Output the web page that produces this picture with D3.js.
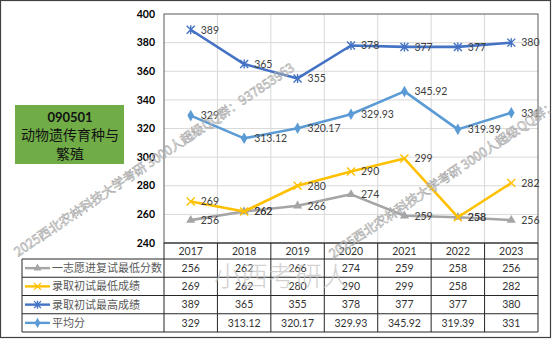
<!DOCTYPE html>
<html><head><meta charset="utf-8">
<script src="https://cdn.jsdelivr.net/npm/d3@7"></script>
<style>html,body{margin:0;padding:0;background:#fff;}svg{display:block;}</style>
</head><body><svg id="c" width="554" height="340"></svg>
<script>
const years = ["2017","2018","2019","2020","2021","2022","2023"];
const seriesNames = ["一志愿进复试最低分数","录取初试最低成绩","录取初试最高成绩","平均分"];
const minRetest = [256,262,266,274,259,258,256];
const minAdmit = [269,262,280,290,299,258,282];
const maxAdmit = [389,365,355,378,377,377,380];
const avgScore = [329,313.12,320.17,329.93,345.92,319.39,331];
const yTicks = [240,260,280,300,320,340,360,380,400];
const titleLines = ["090501","动物遗传育种与","繁殖"];
const watermark = "2025西北农林科技大学考研 3000人超级QQ群：937853963";
const watermark2 = "小西考研人";

const series = [
  {name: seriesNames[0], values: minRetest, color: "#a5a5a5", marker: "tri"},
  {name: seriesNames[1], values: minAdmit, color: "#ffc000", marker: "x"},
  {name: seriesNames[2], values: maxAdmit, color: "#4472c4", marker: "star"},
  {name: seriesNames[3], values: avgScore, color: "#5b9bd5", marker: "dia"}
];

const svg = d3.select("#c");
const L = 164, R = 538, T = 14, B = 243;
const x = d3.scaleBand().domain(years).range([L, R]);
const y = d3.scaleLinear().domain([240, 400]).range([B, T]);
const font = "Lato, 'Noto Sans', sans-serif";
const cjk = "'Noto Sans CJK SC', sans-serif";

// outer border
svg.append("rect").attr("x", 0.5).attr("y", 0.5).attr("width", 550).attr("height", 337)
  .attr("fill", "#fff").attr("stroke", "#404040").attr("stroke-width", 1.2);

// gridlines
svg.append("g").selectAll("line").data(yTicks.filter(t => t > 240 && t < 400)).join("line")
  .attr("x1", L).attr("x2", R).attr("y1", d => y(d)).attr("y2", d => y(d))
  .attr("stroke", "#d9d9d9").attr("stroke-width", 1);
svg.append("g").selectAll("line").data(years.slice(1)).join("line")
  .attr("x1", d => x(d)).attr("x2", d => x(d)).attr("y1", T).attr("y2", B)
  .attr("stroke", "#d9d9d9").attr("stroke-width", 1);
// plot border
svg.append("rect").attr("x", L).attr("y", T).attr("width", R - L).attr("height", B - T)
  .attr("fill", "none").attr("stroke", "#595959").attr("stroke-width", 1);

// y axis labels
svg.append("g").selectAll("text").data(yTicks).join("text")
  .attr("x", 155).attr("y", d => y(d)).attr("dy", "0.35em").attr("text-anchor", "end")
  .attr("font-family", font).attr("font-weight", "bold").attr("font-size", 10.5)
  .attr("fill", "#000").text(d => d);

// title box
svg.append("rect").attr("x", 15).attr("y", 105).attr("width", 109).attr("height", 59).attr("fill", "#70ad47");
svg.append("g").selectAll("text").data(titleLines).join("text")
  .attr("x", 70).attr("y", (d, i) => 117 + i * 18.5).attr("dy", "0.35em").attr("text-anchor", "middle")
  .attr("font-family", (d, i) => i === 0 ? font : cjk)
  .attr("font-weight", (d, i) => i === 0 ? "bold" : "normal")
  .attr("font-size", (d, i) => i === 0 ? 13 : 14)
  .attr("fill", "#111").text(d => d);

function drawMarker(g, type, color, size) {
  const s = size;
  if (type === "tri") {
    g.append("path").attr("d", d3.symbol(d3.symbolTriangle, s * s * 2.2)()).attr("fill", color);
  } else if (type === "dia") {
    g.append("path").attr("d", d3.symbol(d3.symbolDiamond, s * s * 2.4)()).attr("fill", color);
  } else if (type === "x") {
    g.append("path").attr("d", `M${-s},${-s}L${s},${s}M${-s},${s}L${s},${-s}`)
      .attr("stroke", color).attr("stroke-width", 1.4).attr("fill", "none");
  } else {
    g.append("path").attr("d", `M${-s},${-s}L${s},${s}M${-s},${s}L${s},${-s}M0,${-s - 0.5}L0,${s + 0.5}`)
      .attr("stroke", color).attr("stroke-width", 1.4).attr("fill", "none");
  }
}

const line = d3.line().x((d, i) => x(years[i]) + x.bandwidth() / 2).y(d => y(d));
series.forEach(s => {
  const g = svg.append("g");
  g.append("path").datum(s.values).attr("d", line).attr("fill", "none")
    .attr("stroke", s.color).attr("stroke-width", 2.6).attr("stroke-linejoin", "round");
  s.values.forEach((v, i) => {
    const m = g.append("g").attr("transform", `translate(${x(years[i]) + x.bandwidth() / 2},${y(v)})`);
    drawMarker(m, s.marker, s.color, 4);
  });
});
// data labels
series.forEach(s => {
  svg.append("g").selectAll("text").data(s.values).join("text")
    .attr("x", (d, i) => x(years[i]) + x.bandwidth() / 2 + 10)
    .attr("y", d => y(d)).attr("dy", "0.36em")
    .attr("font-family", font).attr("font-size", 10.5).attr("fill", "#404040").text(d => d);
});

// data table
const hdrTop = B, hdrBot = 259, rowH = 18.25;
const tbl = svg.append("g").attr("stroke", "#262626").attr("stroke-width", 1);
const tableBottom = hdrBot + rowH * series.length;
tbl.append("line").attr("x1", L).attr("x2", R).attr("y1", hdrTop).attr("y2", hdrTop);
d3.range(series.length + 1).forEach(k => {
  const yy = hdrBot + k * rowH;
  tbl.append("line").attr("x1", 22).attr("x2", R).attr("y1", yy).attr("y2", yy);
});
years.forEach(yr => {
  tbl.append("line").attr("x1", x(yr)).attr("x2", x(yr)).attr("y1", hdrTop).attr("y2", tableBottom);
});
tbl.append("line").attr("x1", R).attr("x2", R).attr("y1", hdrTop).attr("y2", tableBottom);
tbl.append("line").attr("x1", 22).attr("x2", 22).attr("y1", hdrBot).attr("y2", tableBottom);

svg.append("g").selectAll("text").data(years).join("text")
  .attr("x", d => x(d) + x.bandwidth() / 2).attr("y", (hdrTop + hdrBot) / 2).attr("dy", "0.36em")
  .attr("text-anchor", "middle").attr("font-family", font).attr("font-size", 10.5).attr("fill", "#333").text(d => d);

series.forEach((s, k) => {
  const cy = hdrBot + k * rowH + rowH / 2;
  const g = svg.append("g");
  g.append("line").attr("x1", 25).attr("x2", 50).attr("y1", cy).attr("y2", cy)
    .attr("stroke", s.color).attr("stroke-width", 2.4);
  const m = g.append("g").attr("transform", `translate(37.5,${cy})`);
  drawMarker(m, s.marker, s.color, 3.5);
  g.append("text").attr("x", 52).attr("y", cy).attr("dy", "0.36em")
    .attr("font-family", cjk).attr("font-size", 11).attr("fill", "#595959").text(s.name);
  g.selectAll("text.v").data(s.values).join("text").attr("class", "v")
    .attr("x", (d, i) => x(years[i]) + x.bandwidth() / 2).attr("y", cy).attr("dy", "0.36em")
    .attr("text-anchor", "middle").attr("font-family", font).attr("font-size", 10.5).attr("fill", "#333").text(d => d);
});

// watermarks
svg.append("clipPath").attr("id", "cl").append("rect").attr("x", 0).attr("y", 0).attr("width", 551).attr("height", 338);
const wm = svg.append("g").attr("clip-path", "url(#cl)");
[[18, 257], [333, 259]].forEach(([wx, wy]) => {
  wm.append("text").attr("transform", `translate(${wx},${wy}) rotate(-34)`)
    .attr("font-family", cjk).attr("font-size", 12.8)
    .attr("fill", "rgba(255,255,255,0.25)").attr("stroke", "#a8a8a8").attr("stroke-width", 0.6)
    .text(watermark);
});
wm.append("text").attr("x", 214).attr("y", 286).attr("font-family", cjk).attr("font-weight", 300)
  .attr("font-size", 27).attr("fill", "#c4c4c4").attr("opacity", 0.75).text(watermark2);
</script></body></html>
